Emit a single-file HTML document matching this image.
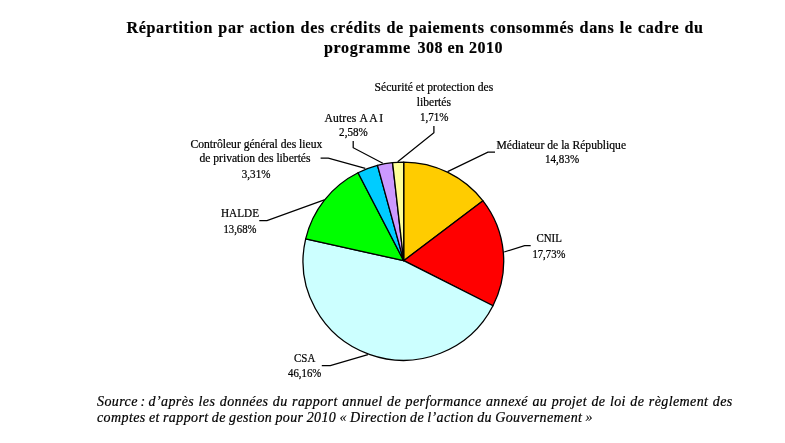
<!DOCTYPE html>
<html lang="fr"><head><meta charset="utf-8"><title>Programme 308</title>
<style>
html,body{margin:0;padding:0;background:#fff;}
body{width:785px;height:443px;position:relative;overflow:hidden;font-family:"Liberation Serif",serif;color:#000;}
#title{position:absolute;left:0;top:0;width:785px;font-weight:bold;font-size:16px;line-height:20px;letter-spacing:0.68px;word-spacing:0.3px;-webkit-text-stroke:0.2px #000;}
#title div{white-space:nowrap;position:absolute;}
#t1{left:126.4px;top:17.7px;word-spacing:0.65px;}
#t2{left:324px;top:38.2px;}
#src{position:absolute;left:97px;top:0;width:635.5px;font-style:italic;font-size:14px;line-height:16px;letter-spacing:0.4px;-webkit-text-stroke:0.2px #000;}
#src div{white-space:nowrap;position:absolute;left:0;}
#l1{top:394.4px;width:635.7px;}
#l2{top:409.6px;word-spacing:-0.7px;}
#l1{text-align:justify;text-align-last:justify;white-space:normal !important;}
svg{position:absolute;left:0;top:0;}
svg text{font-family:"Liberation Serif",serif;font-size:11.6px;text-anchor:middle;fill:#000;stroke:#000;stroke-width:0.22px;}
svg text.p{font-size:11.6px;}
</style></head><body>
<div id="title"><div id="t1">Répartition par action des crédits de paiements consommés dans le cadre du</div><div id="t2">programme <span style="margin-left:1.8px;letter-spacing:0.5px;word-spacing:0">308 en 2010</span></div></div>
<svg width="785" height="443" viewBox="0 0 785 443">
<g stroke="#000" stroke-width="1.3" stroke-linejoin="round">
<path d="M403.7 260.7L403.70 162.05A100.3 99.1 0 0 1 483.00 200.85Z" fill="#ffcc00"/>
<path d="M403.7 260.7L483.00 200.85A100.3 99.1 0 0 1 492.97 305.74Z" fill="#ff0000"/>
<path d="M403.7 260.7L492.97 305.74A100.3 99.1 0 0 1 305.68 238.80Z" fill="#ccffff"/>
<path d="M403.7 260.7L305.68 238.80A100.3 99.1 0 0 1 358.03 172.77Z" fill="#00ff00"/>
<path d="M403.7 260.7L358.03 172.77A100.3 99.1 0 0 1 377.48 165.42Z" fill="#00ccff"/>
<path d="M403.7 260.7L377.48 165.42A100.3 99.1 0 0 1 392.57 162.63Z" fill="#cc99ff"/>
<path d="M403.7 260.7L392.57 162.63A100.3 99.1 0 0 1 403.70 162.05Z" fill="#ffff99"/>
</g>
<g fill="none" stroke="#000" stroke-width="1.25">
<polyline points="433.9,126 433.9,132.7 397.7,161.8"/>
<polyline points="353.2,141 353.2,147.7 382.8,163.2"/>
<polyline points="320.6,158.2 328.3,158.2 365.3,168.3"/>
<polyline points="495,152.2 487.9,152.2 447.6,171.6"/>
<polyline points="530.7,245.7 524.6,245.7 504.2,252"/>
<polyline points="259.3,220.6 267,220.6 324.3,199.9"/>
<polyline points="321.8,365.5 330.3,365.5 367.9,354.6"/>
</g>
<text id="s1" x="433.9" y="90.9" letter-spacing="0.05">Sécurité et protection des</text>
<text x="433.9" y="106.3">libertés</text>
<text class="p" transform="translate(434.2 120.5) scale(.955 1)">1,71%</text>
<text id="a1" x="354.4" y="122.0" letter-spacing="0.2">Autres <tspan letter-spacing="1.4">AAI</tspan></text>
<text class="p" transform="translate(353.4 136.1) scale(.955 1)">2,58%</text>
<text id="c1" x="256.4" y="147.9">Contrôleur général des lieux</text>
<text id="c2" x="255.0" y="162.2">de privation des libertés</text>
<text class="p" transform="translate(256.1 177.6) scale(.955 1)">3,31%</text>
<text id="m1" x="561.3" y="149.2" letter-spacing="0.02">Médiateur de la République</text>
<text class="p" id="m2" transform="translate(562.1 163.3) scale(.955 1)">14,83%</text>
<text id="n1" transform="translate(549.1 241.8) scale(.94 1)">CNIL</text>
<text class="p" transform="translate(548.9 257.6) scale(.925 1)">17,73%</text>
<text id="h1" transform="translate(240 217.3) scale(.97 1)">HALDE</text>
<text class="p" transform="translate(240 232.8) scale(.925 1)">13,68%</text>
<text id="k1" transform="translate(304.7 362.4) scale(.94 1)">CSA</text>
<text class="p" id="k2" transform="translate(304.7 377.1) scale(.933 1)">46,16%</text>
</svg>
<div id="src"><div id="l1">Source<span style="word-spacing:-1.6px"> : </span>d’après les données du rapport annuel de performance annexé au projet de loi de règlement des</div><div id="l2">comptes et rapport de gestion pour 2010 « Direction de l’action du Gouvernement »</div></div>
</body></html>
